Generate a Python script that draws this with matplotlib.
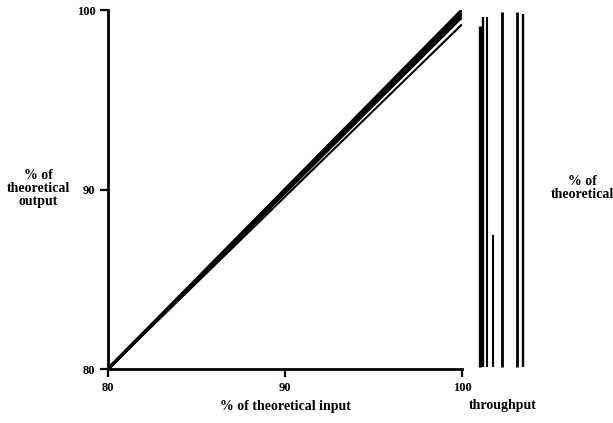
import matplotlib.pyplot as plt
import numpy as np

# main panel: % of theoretical input vs % of theoretical output
input_start = [80, 80, 80, 80]
input_end = [100, 100, 100, 100]
output_start = [80, 80, 80, 80]
output_end = [100.0, 99.8, 99.6, 99.2]
line_widths = [2.4, 2.4, 1.8, 1.5]

# right panel: throughput lines
throughput_pos = [0, 1, 2, 4, 6.5, 11, 13]
throughput_low = [80, 80, 80, 80, 80, 80, 80]
throughput_high = [99.1, 99.6, 99.6, 87.4, 99.9, 99.9, 99.8]
throughput_widths = [2.4, 1.7, 1.5, 1.5, 2.0, 2.0, 1.7]

W, H = 613, 423
plt.rcParams['font.family'] = ['Liberation Serif', 'DejaVu Serif']
plt.rcParams['font.weight'] = 'bold'

fig = plt.figure(figsize=(W / 100, H / 100), dpi=100)

def box(x0, x1, ytop, ybot):
    return [x0 / W, 1 - ybot / H, (x1 - x0) / W, (ybot - ytop) / H]

ax = fig.add_axes(box(108, 462, 10, 369))
for i in range(len(input_start)):
    ax.plot([input_start[i], input_end[i]], [output_start[i], output_end[i]],
            color='black', lw=line_widths[i], solid_capstyle='butt')
ax.set_xlim(80, 100)
ax.set_ylim(80, 100)
ax.set_xticks([80, 90, 100])
ax.set_yticks([80, 90, 100])
ax.set_xticklabels(['80', '90', '100'], fontsize=9, fontweight='bold')
ax.set_yticklabels(['80', '90', '100'], fontsize=9, fontweight='bold')
ax.tick_params(direction='out', length=6, width=1.6, pad=3)
for s in ['top', 'right']:
    ax.spines[s].set_visible(False)
for s in ['left', 'bottom']:
    ax.spines[s].set_linewidth(2)

ax2 = fig.add_axes(box(470, 536, 10, 369))
ax2.vlines(throughput_pos, throughput_low, throughput_high,
           colors='black', linewidth=throughput_widths)
ax2.set_xlim(-3, 16.8)
ax2.set_ylim(79.9, 100)
ax2.axis('off')

fig.text(38 / W, 1 - 188 / H, '% of\ntheoretical\noutput', ha='center', va='center',
         fontsize=10, fontweight='bold', linespacing=1.0)
fig.text(285 / W, 1 - 406 / H, '% of theoretical input', ha='center', va='center',
         fontsize=10, fontweight='bold')
fig.text(503 / W, 1 - 405 / H, 'throughput', ha='center', va='center',
         fontsize=10, fontweight='bold')
fig.text(582 / W, 1 - 188 / H, '% of\ntheoretical', ha='center', va='center',
         fontsize=10, fontweight='bold', linespacing=1.0)

fig.savefig('out.png', dpi=100)
